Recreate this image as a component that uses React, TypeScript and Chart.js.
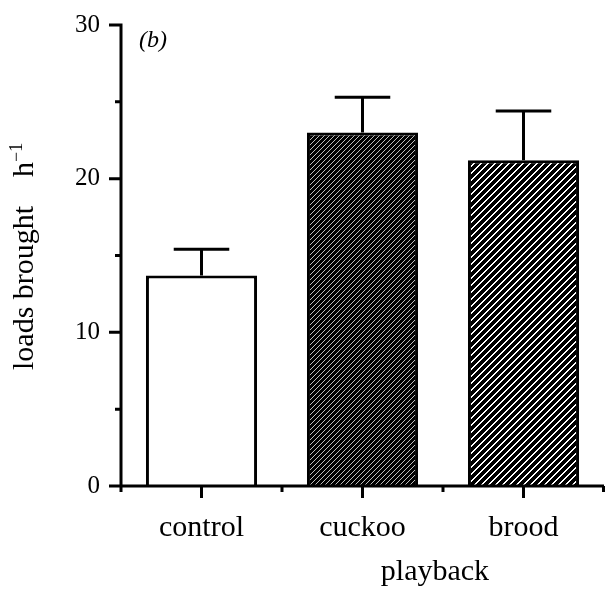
import React, { useEffect, useRef } from 'react';
import { Chart, registerables } from 'chart.js';

Chart.register(...registerables);

const categories = ['control', 'cuckoo', 'brood'];
const meanLoads = [13.7, 23.0, 21.2];
const errorLoads = [1.7, 2.3, 3.2];
const yMajorTicks = [0, 10, 20, 30];
const yMinorTicks = [5, 15, 25];

const SERIF = "'Liberation Serif', 'DejaVu Serif', serif";

function makePattern(kind: 'fine' | 'coarse'): CanvasPattern | string {
  const c = document.createElement('canvas');
  const n = kind === 'fine' ? 5 : 7;
  c.width = n;
  c.height = n;
  const g = c.getContext('2d');
  if (!g) return '#000';
  g.fillStyle = '#000';
  g.fillRect(0, 0, n, n);
  if (kind === 'fine') {
    g.fillStyle = 'rgba(255,255,255,0.75)';
    for (let i = 0; i < n; i++) g.fillRect(i, n - 1 - i, 1, 1);
  } else {
    g.fillStyle = '#fff';
    for (let i = 0; i < n; i++) {
      const xx = n - 1 - i;
      g.fillRect(xx, i, 1, 1);
      g.fillRect((xx + 1) % n, i, 1, 1);
    }
  }
  const p = g.createPattern(c, 'repeat');
  return p || '#000';
}

const customDraw = {
  id: 'customDraw',
  afterDatasetsDraw(chart: any) {
    const { ctx, chartArea, scales } = chart;
    const x = scales.x;
    const y = scales.y;
    ctx.save();
    ctx.strokeStyle = '#000';
    ctx.lineWidth = 3;
    ctx.lineCap = 'butt';

    // error bars (upper only)
    const meta = chart.getDatasetMeta(0);
    meta.data.forEach((bar: any, i: number) => {
      const base = y.getPixelForValue(meanLoads[i]);
      const top = y.getPixelForValue(meanLoads[i] + errorLoads[i]);
      const half = bar.width * 0.25;
      ctx.beginPath();
      ctx.moveTo(bar.x, base);
      ctx.lineTo(bar.x, top);
      ctx.moveTo(bar.x - half, top);
      ctx.lineTo(bar.x + half, top);
      ctx.stroke();
    });

    // axes
    const y0 = y.getPixelForValue(0);
    const yTop = y.getPixelForValue(30);
    const left = chartArea.left;
    ctx.beginPath();
    ctx.moveTo(left, yTop - 1.5);
    ctx.lineTo(left, y0 + 6);
    ctx.moveTo(left - 1.5, y0);
    ctx.lineTo(chartArea.right, y0);
    yMajorTicks.forEach((v) => {
      const p = y.getPixelForValue(v);
      ctx.moveTo(left - 12, p);
      ctx.lineTo(left, p);
    });
    yMinorTicks.forEach((v) => {
      const p = y.getPixelForValue(v);
      ctx.moveTo(left - 6, p);
      ctx.lineTo(left, p);
    });
    categories.forEach((_c, i) => {
      const p = x.getPixelForValue(i);
      ctx.moveTo(p, y0);
      ctx.lineTo(p, y0 + 12);
    });
    for (let i = 0; i <= categories.length; i++) {
      const p = Math.min(x.getPixelForValue(i - 0.5), chart.width - 1.5);
      ctx.moveTo(p, y0);
      ctx.lineTo(p, y0 + 6);
    }
    ctx.stroke();

    // texts
    ctx.fillStyle = '#000';
    ctx.font = `italic 24px ${SERIF}`;
    ctx.textAlign = 'left';
    ctx.textBaseline = 'alphabetic';
    ctx.fillText('(b)', left + 18, yTop + 22);

    ctx.font = `30px ${SERIF}`;
    ctx.textAlign = 'center';
    ctx.textBaseline = 'alphabetic';
    ctx.fillText('playback', left + (chartArea.right - left) * 0.65, 580);

    // y title rotated
    ctx.save();
    ctx.translate(33, 370);
    ctx.rotate(-Math.PI / 2);
    ctx.textAlign = 'left';
    ctx.font = `30px ${SERIF}`;
    const main = 'loads brought';
    ctx.fillText(main, 0, 0);
    const hx = 193;
    ctx.fillText('h', hx, 0);
    const hw = ctx.measureText('h').width;
    ctx.font = `18px ${SERIF}`;
    ctx.fillText('\u22121', hx + hw, -11);
    ctx.restore();

    ctx.restore();
  },
};

export default function App() {
  const ref = useRef<HTMLCanvasElement | null>(null);
  useEffect(() => {
    document.body.style.margin = '0';
    const canvas = ref.current;
    if (!canvas) return;
    const fills = ['#ffffff', makePattern('fine'), makePattern('coarse')];
    const chart = new Chart(canvas, {
      type: 'bar',
      data: {
        labels: categories,
        datasets: [
          {
            data: meanLoads,
            backgroundColor: fills as any,
            borderColor: '#000',
            borderWidth: 3,
            borderSkipped: 'start',
            barPercentage: 0.69,
            categoryPercentage: 1,
          },
        ],
      },
      options: {
        responsive: false,
        animation: false,
        devicePixelRatio: 1,
        layout: { padding: { left: 0, right: 1, top: 25, bottom: 0 } },
        plugins: {
          legend: { display: false },
          tooltip: { enabled: false },
          title: { display: false },
        },
        scales: {
          x: {
            type: 'category',
            offset: true,
            grid: { display: false, drawTicks: false },
            border: { display: false },
            ticks: {
              color: '#000',
              font: { family: SERIF, size: 30 },
              padding: 24,
              maxRotation: 0,
              autoSkip: false,
            },
            afterFit: (s: any) => {
              s.height = 104;
              s.paddingLeft = 0;
              s.paddingRight = 0;
            },
          },
          y: {
            min: 0,
            max: 30,
            grid: { display: false, drawTicks: false },
            border: { display: false },
            ticks: {
              stepSize: 10,
              color: '#000',
              font: { family: SERIF, size: 25 },
              padding: 21,
            },
            afterFit: (s: any) => {
              s.width = 121;
              s.paddingTop = 0;
              s.paddingBottom = 0;
            },
          },
        },
      },
      plugins: [customDraw],
    });
    return () => chart.destroy();
  }, []);
  return <canvas ref={ref} width={605} height={590} style={{ display: 'block' }} />;
}
